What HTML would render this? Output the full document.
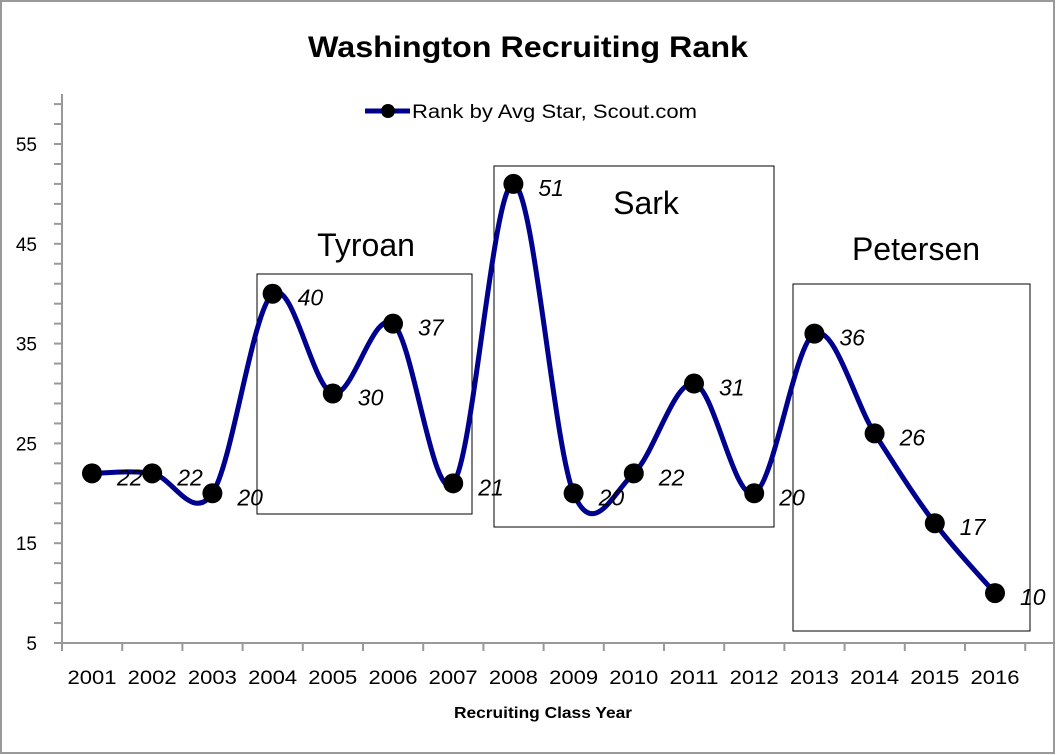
<!DOCTYPE html>
<html><head><meta charset="utf-8"><style>
body{margin:0;background:#fff;}
svg{display:block;font-family:"Liberation Sans",sans-serif;}
</style></head><body>
<svg id="s" width="1056" height="755" viewBox="0 0 1056 755">
<rect x="1" y="1" width="1053" height="752" fill="#fff" stroke="#999" stroke-width="2"/>
<text x="528" y="57" text-anchor="middle" font-size="30" font-weight="bold" textLength="440" lengthAdjust="spacingAndGlyphs">Washington Recruiting Rank</text>
<line x1="365" y1="111" x2="410" y2="111" stroke="#00008e" stroke-width="5"/>
<circle cx="388" cy="111" r="7" fill="#000"/>
<text x="412" y="118" font-size="19" textLength="285" lengthAdjust="spacingAndGlyphs">Rank by Avg Star, Scout.com</text>
<g id="ax" stroke="#999" stroke-width="2"></g>
<g id="lab" font-size="19"></g>
<g fill="none" stroke="#000" stroke-width="1">
<rect x="257" y="274" width="215" height="240"/>
<rect x="494" y="166" width="280" height="361"/>
<rect x="793" y="284" width="237" height="347"/>
</g>
<text x="366" y="256" text-anchor="middle" font-size="32">Tyroan</text>
<text x="646" y="214" text-anchor="middle" font-size="32">Sark</text>
<text x="916" y="260" text-anchor="middle" font-size="32">Petersen</text>
<path id="ln" fill="none" stroke="#00008e" stroke-width="5"/>
<g id="pts"></g>
<text x="543" y="718" text-anchor="middle" font-size="16" font-weight="bold" textLength="178" lengthAdjust="spacingAndGlyphs">Recruiting Class Year</text>
</svg>
<script>
var ns="http://www.w3.org/2000/svg";
function el(p,t,a,txt){var e=document.createElementNS(ns,t);for(var k in a)e.setAttribute(k,a[k]);if(txt!=null)e.textContent=txt;p.appendChild(e);return e;}
function Y(v){return 643-(v-5)*9.98;}
var ax=document.getElementById('ax'),lab=document.getElementById('lab');
el(ax,'line',{x1:62,y1:94,x2:62,y2:643});
el(ax,'line',{x1:62,y1:643,x2:1054,y2:643});
for(var v=5;v<=59;v+=2){el(ax,'line',{x1:54,y1:Y(v),x2:62,y2:Y(v)});}
for(var v=5;v<=55;v+=10){el(lab,'text',{x:37,y:Y(v)+7,'text-anchor':'end'},v);}
for(var i=0;i<=16;i++){var x=62+60.2*i;el(ax,'line',{x1:x,y1:643,x2:x,y2:651});}
var vals=[22,22,20,40,30,37,21,51,20,22,31,20,36,26,17,10];
var P=vals.map(function(v,i){return [92+60.2*i,Y(v)];});
for(var i=0;i<16;i++)el(lab,'text',{x:P[i][0],y:684,'text-anchor':'middle',textLength:49,lengthAdjust:'spacingAndGlyphs'},2001+i);
var d="M"+P[0][0]+","+P[0][1];
for(var i=0;i<P.length-1;i++){var p0=P[i-1]||P[i],p1=P[i],p2=P[i+1],p3=P[i+2]||P[i+1];
var c1=[p1[0]+(p2[0]-p0[0])/6,p1[1]+(p2[1]-p0[1])/6],c2=[p2[0]-(p3[0]-p1[0])/6,p2[1]-(p3[1]-p1[1])/6];
d+=" C"+c1+" "+c2+" "+p2;}
document.getElementById('ln').setAttribute('d',d);
var g=document.getElementById('pts');
P.forEach(function(p,i){el(g,'circle',{cx:p[0],cy:p[1],r:10,fill:'#000'});
el(g,'text',{x:p[0]+25,y:p[1]+12,'font-size':23,'font-style':'italic'},vals[i]);});
</script>
</body></html>
